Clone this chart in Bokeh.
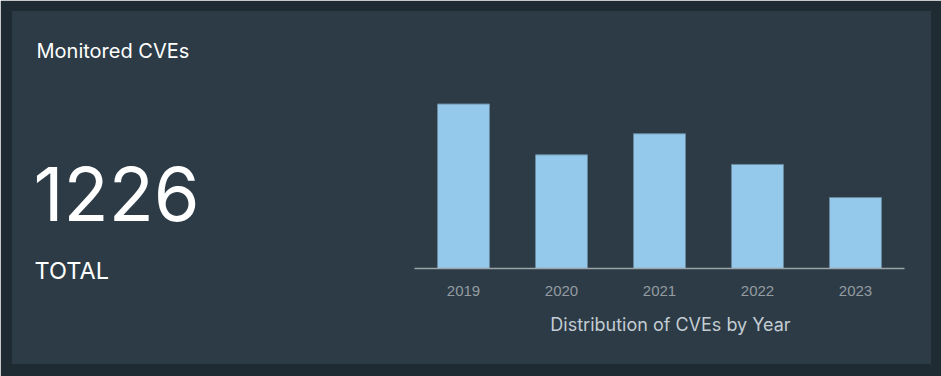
from bokeh.plotting import figure
from bokeh.models import Range1d, Label, LinearAxis, FixedTicker
from bokeh.embed import file_html
from bokeh.resources import INLINE

title = "Monitored CVEs"
total_label = "TOTAL"
years = [2019, 2020, 2021, 2022, 2023]
counts = [343, 237, 281, 217, 148]
axis_title = "Distribution of CVEs by Year"
total = sum(counts)

OUTER = "#1f2b33"
PANEL = "#2c3b46"
BAR = "#95c9eb"
BAR_LINE = "#6a8aa0"

W, H = 941, 376
L, R, T, B = 11, 931, 10, 364   # panel in page pixels

# x: 98 px per year, 2019 centred at page x=463
pxx = 98.0
x0 = years[0] - (463 - L) / pxx
x1 = years[-1] + (R - 855) / pxx
# y: baseline at page y=268, 2019 bar top at 103
k = counts[0] / (268 - 103.5)
y0 = -(B - 268) * k
y1 = (268 - T) * k

p = figure(width=W, height=H, output_backend="svg", toolbar_location=None,
           x_range=Range1d(x0, x1), y_range=Range1d(y0, y1),
           min_border_left=L, min_border_right=W - R, min_border_top=T, min_border_bottom=H - B,
           x_axis_type=None, y_axis_type=None)
p.border_fill_color = OUTER
p.background_fill_color = PANEL
p.outline_line_color = OUTER
p.outline_line_alpha = 1
p.outline_line_width = 1
p.grid.visible = False

p.extra_x_ranges = {"px": Range1d(L, R)}
p.extra_y_ranges = {"px": Range1d(B, T)}

p.vbar(x=years, top=counts, bottom=0, width=0.53, fill_color=BAR,
       line_color=BAR_LINE, line_width=1)

ax = LinearAxis(fixed_location=0, bounds=(years[0] - 0.5, years[-1] + 0.5),
                ticker=FixedTicker(ticks=years), major_tick_line_color=None,
                minor_tick_line_color=None, axis_line_color="#9aa4ab", axis_line_width=1.5,
                major_label_text_color="#949ba1", major_label_text_font="Liberation Sans",
                major_label_text_font_size="15px", major_label_standoff=11)
p.add_layout(ax, "below")

FONT = "Inter"
p.add_layout(Label(x=36, y=50, x_range_name="px", y_range_name="px", text=title,
                   text_color="#ffffff", text_font=FONT, text_font_size="20px",
                   text_baseline="alphabetic"))
p.add_layout(Label(x=33, y=193, x_range_name="px", y_range_name="px", text=str(total),
                   text_color="#ffffff", text_font=FONT, text_font_size="74px",
                   text_baseline="alphabetic"))
p.add_layout(Label(x=34, y=270, x_range_name="px", y_range_name="px", text=total_label,
                   text_color="#ffffff", text_font=FONT, text_font_size="23.5px",
                   text_baseline="alphabetic"))
p.add_layout(Label(x=670, y=324, x_range_name="px", y_range_name="px", text=axis_title,
                   text_color="#c3ccd3", text_font=FONT, text_font_size="18px",
                   text_baseline="alphabetic", text_align="center"))

open("out.html", "w").write(file_html(p, INLINE))
